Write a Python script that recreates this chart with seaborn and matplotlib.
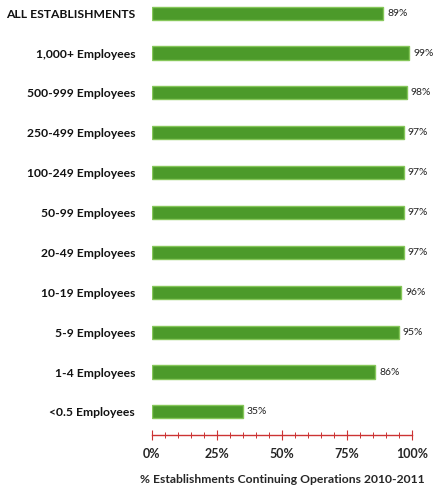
import matplotlib
matplotlib.use("Agg")
import matplotlib.pyplot as plt
import seaborn as sns
import pandas as pd
from matplotlib.ticker import MultipleLocator, PercentFormatter

categories = ["ALL ESTABLISHMENTS", "1,000+ Employees", "500-999 Employees",
              "250-499 Employees", "100-249 Employees", "50-99 Employees",
              "20-49 Employees", "10-19 Employees", "5-9 Employees",
              "1-4 Employees", "<0.5 Employees"]
values = [89, 99, 98, 97, 97, 97, 97, 96, 95, 86, 35]
value_labels = ["89%", "99%", "98%", "97%", "97%", "97%", "97%", "96%", "95%", "86%", "35%"]
tick_values = [0, 25, 50, 75, 100]

df = pd.DataFrame({"cat": categories, "val": values})

sns.set_style("white")
plt.rcParams["font.family"] = ["Lato", "DejaVu Sans"]

fig = plt.figure(figsize=(4.40, 4.91), dpi=100)
ax = fig.add_axes([0.345, 0.114, 0.591, 0.886])

sns.barplot(data=df, y="cat", x="val", orient="h", color="#4c9a2a",
            edgecolor="#86c75a", linewidth=1.0, width=0.33, saturation=1, ax=ax)

for i, (v, lab) in enumerate(zip(values, value_labels)):
    ax.text(v + 1.5, i, lab, va="center", ha="left", fontsize=7.5, color="#222222")

ax.set_xlim(0, 100)
ax.set_ylim(10.58, -0.33)
ax.set_xticks(tick_values)
ax.xaxis.set_major_formatter(PercentFormatter(100, decimals=0))
ax.xaxis.set_minor_locator(MultipleLocator(5))
ax.tick_params(axis="x", which="major", direction="inout", color="#cc3333",
               length=7, width=0.8, labelsize=9, pad=6, bottom=True)
ax.tick_params(axis="x", which="minor", direction="inout", color="#cc3333",
               length=5, width=0.7, bottom=True)
for lbl in ax.get_xticklabels():
    lbl.set_fontweight("bold")
ax.tick_params(axis="y", length=0, labelsize=8.7, pad=12)
for lbl in ax.get_yticklabels():
    lbl.set_fontweight("bold")
    lbl.set_color("#111111")

for s in ["top", "right", "left"]:
    ax.spines[s].set_visible(False)
ax.spines["bottom"].set_color("#cc3333")
ax.spines["bottom"].set_linewidth(1.0)

ax.set_ylabel("")
ax.set_xlabel("% Establishments Continuing Operations 2010-2011",
              fontsize=8.7, fontweight="bold", labelpad=10)

fig.savefig("out.png", dpi=100)
